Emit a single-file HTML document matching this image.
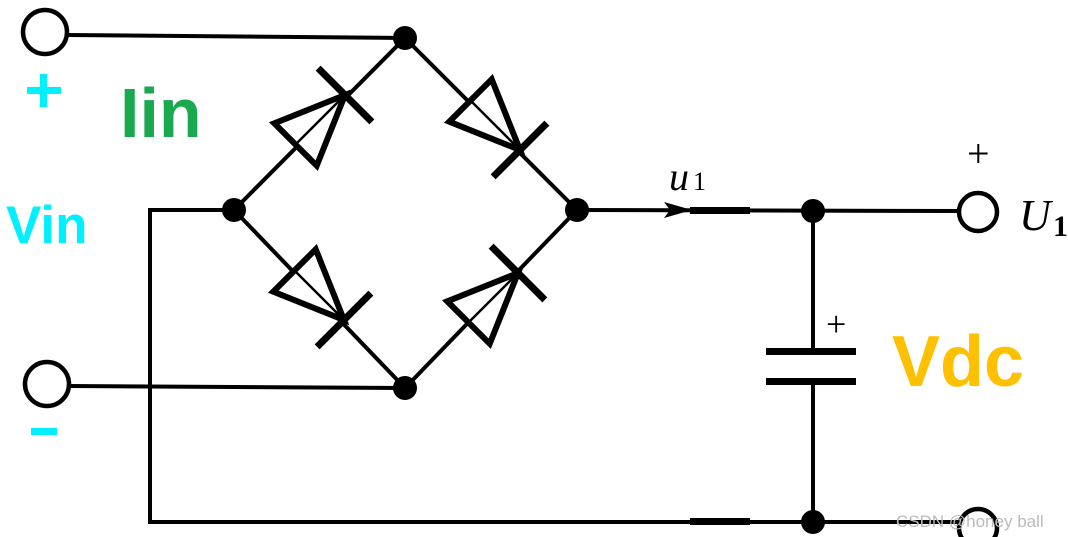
<!DOCTYPE html>
<html><head><style>
html,body{margin:0;padding:0;background:#fff;width:1068px;height:537px;overflow:hidden}
svg{display:block}
</style></head><body>
<svg width="1068" height="537" viewBox="0 0 1068 537" xmlns="http://www.w3.org/2000/svg">
<defs>
<g id="d">
<polygon points="0,0 -70,-30 -70,30" fill="#fff" stroke="#000" stroke-width="6" stroke-linejoin="miter"/>
<line x1="-70" y1="0" x2="0" y2="0" stroke="#000" stroke-width="2.5"/>
<line x1="0" y1="-38" x2="0" y2="38" stroke="#000" stroke-width="7"/>
</g>
</defs>
<g stroke="#000" stroke-width="4" fill="none">
<line x1="67" y1="35" x2="405" y2="38"/>
<line x1="69" y1="386" x2="405" y2="388"/>
<polyline points="234,210 150,210 150,522 810,522 958,522"/>
<line x1="234" y1="210" x2="405" y2="38"/>
<line x1="405" y1="38" x2="577" y2="210"/>
<line x1="234" y1="210" x2="405" y2="388"/>
<line x1="405" y1="388" x2="577" y2="210"/>
<line x1="577" y1="210" x2="960" y2="211"/>
<line x1="813" y1="210" x2="813" y2="352"/>
<line x1="813" y1="381" x2="813" y2="522"/>
</g>
<g stroke="#000" stroke-width="4.5" fill="#fff">
<circle cx="45" cy="32" r="22"/>
<circle cx="47" cy="384" r="22"/>
<circle cx="978" cy="212" r="19"/>
<circle cx="978" cy="528" r="19"/>
</g>
<!-- diodes -->
<use href="#d" transform="translate(345,95) rotate(-45)"/>
<use href="#d" transform="translate(520,150) rotate(45)"/>
<use href="#d" transform="translate(344,320) rotate(45)"/>
<use href="#d" transform="translate(518,273) rotate(-45)"/>
<g fill="#000">
<circle cx="405" cy="38" r="12"/>
<circle cx="234" cy="210" r="12"/>
<circle cx="577" cy="210" r="12"/>
<circle cx="405" cy="388" r="12"/>
<circle cx="813" cy="211" r="12"/>
<circle cx="813" cy="522" r="12"/>
<rect x="690" y="207" width="60" height="7"/>
<rect x="690" y="518" width="60" height="7"/>
<polygon points="692,210 664,202 670,210 664,218"/>
<rect x="766" y="348" width="90" height="7"/>
<rect x="766" y="378" width="90" height="7"/>
</g>
<g font-family="Liberation Serif, serif" fill="#000">
<text x="669" y="190" font-size="40" font-style="italic">u</text>
<text x="693" y="190" font-size="26">1</text>
<text x="1019" y="230" font-size="44" font-style="italic">U</text>
<text x="1053" y="236" font-size="30" font-weight="bold">1</text>
<text x="967" y="167" font-size="40">+</text>
<text x="826" y="336" font-size="36">+</text>
</g>
<g font-family="Liberation Sans, sans-serif" font-weight="bold">
<rect x="27" y="87" width="34" height="7" fill="#00f0ff"/>
<rect x="40" y="74" width="7" height="33" fill="#00f0ff"/>
<rect x="31" y="428" width="26" height="7" fill="#00f0ff"/>
<text x="120" y="137" font-size="70" fill="#1aa94f">Iin</text>
<text x="6" y="243" font-size="53" fill="#00f0ff">Vin</text>
<text x="892" y="386" font-size="72" fill="#ffc000">Vdc</text>
</g>
<text x="896" y="527" font-family="Liberation Sans, sans-serif" font-size="17" fill="#bbb">CSDN @honey ball</text>
</svg>
</body></html>
